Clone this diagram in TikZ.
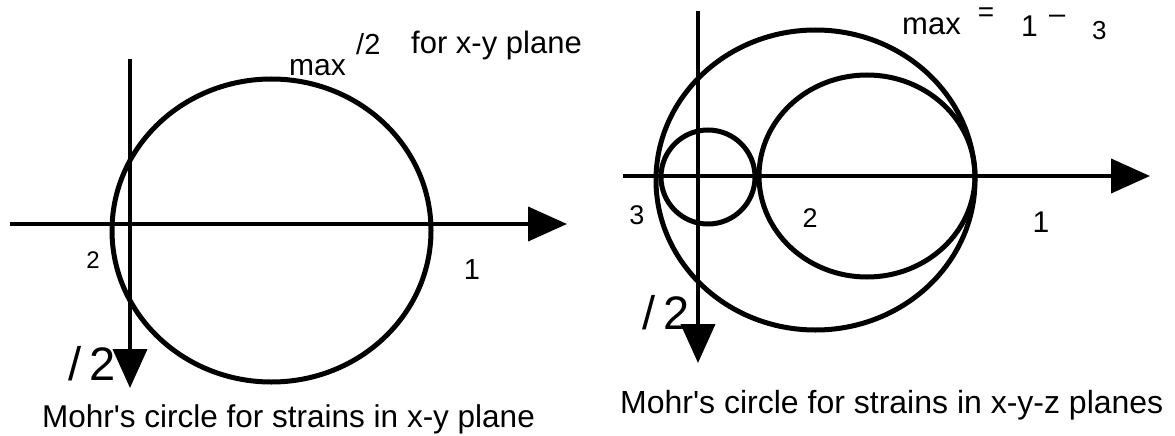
\documentclass[tikz,border=0pt]{standalone}
\usepackage{fontspec}
\setmainfont{Liberation Sans}
\usetikzlibrary{arrows.meta}

\begin{document}
\begin{tikzpicture}[
    x=1pt, y=-1pt,
    lbl/.style={inner sep=0pt, font=\fontsize{27}{30}\selectfont},
    txt/.style={inner sep=0pt, anchor=base west, font=\fontsize{31}{36}\selectfont},
    half/.style={inner sep=0pt, anchor=base west, font=\fontsize{47}{52}\selectfont},
    mohr/.style={line width=5pt},
    axis/.style={line width=4pt, -{Triangle[length=39pt, width=34pt]}}
]
    \useasboundingbox (0,0) rectangle (1175,436);

    % Left diagram: strains in the x-y plane
    \coordinate (l_west) at (10,224);
    \coordinate (l_east) at (567,224);
    \coordinate (l_north) at (130,59);
    \coordinate (l_south) at (130,388);
    \draw [mohr] (271.5,230.5) ellipse [x radius=159.5pt, y radius=151.5pt];
    \draw [axis] (l_west) -- (l_east);
    \draw [axis] (l_north) -- (l_south);

    \node [lbl, font=\fontsize{24}{28}\selectfont] (l_e2) at (93,260) {2};
    \node [lbl, font=\fontsize{29}{32}\selectfont] (l_e1) at (472,270) {1};
    \node [half] (l_half) at (68,380) {/\hspace{0.18em}2};

    \node [txt, font=\fontsize{30}{36}\selectfont] (l_max) at (289,76) {max};
    \node [txt, font=\fontsize{29}{34}\selectfont] (l_over) at (356,55) {/2};
    \node [txt] (l_plane) at (411,54) {for x-y plane};

    \node [txt, font=\fontsize{31.5}{36}\selectfont] (l_caption) at (42,427)
        {Mohr\textquotesingle s circle for strains in x-y plane};

    % Right diagram: strains in the x-y-z planes
    \coordinate (r_west) at (623,176);
    \coordinate (r_east) at (1150,176);
    \coordinate (r_north) at (698,11);
    \coordinate (r_south) at (698,363);
    \draw [mohr] (815.5,180) ellipse [x radius=159.5pt, y radius=150pt];
    \draw [mohr] (867,176) ellipse [x radius=108pt, y radius=101pt];
    \draw [mohr] (708,177) circle [radius=47pt];
    \draw [axis] (r_west) -- (r_east);
    \draw [axis] (r_north) -- (r_south);

    \node [lbl] (r_e3) at (637,215) {3};
    \node [lbl] (r_e2) at (810,218) {2};
    \node [lbl, font=\fontsize{30}{32}\selectfont] (r_e1) at (1041,222) {1};
    \node [half] (r_half) at (642,329) {/\hspace{0.18em}2};

    \node [txt] (r_max) at (902,35) {max};
    \node [lbl, font=\fontsize{28}{30}\selectfont] (r_eq) at (986,15) {=};
    \node [txt, font=\fontsize{30}{32}\selectfont] (r_one) at (1021,37) {1};
    \node [txt, font=\fontsize{29}{32}\selectfont] (r_minus) at (1049,24) {--};
    \node [txt, font=\fontsize{26}{28}\selectfont] (r_three) at (1092,40) {3};

    \node [txt, font=\fontsize{32}{36}\selectfont] (r_caption) at (620,413)
        {Mohr\textquotesingle s circle for strains in x-y-z planes};

\end{tikzpicture}
\end{document}
